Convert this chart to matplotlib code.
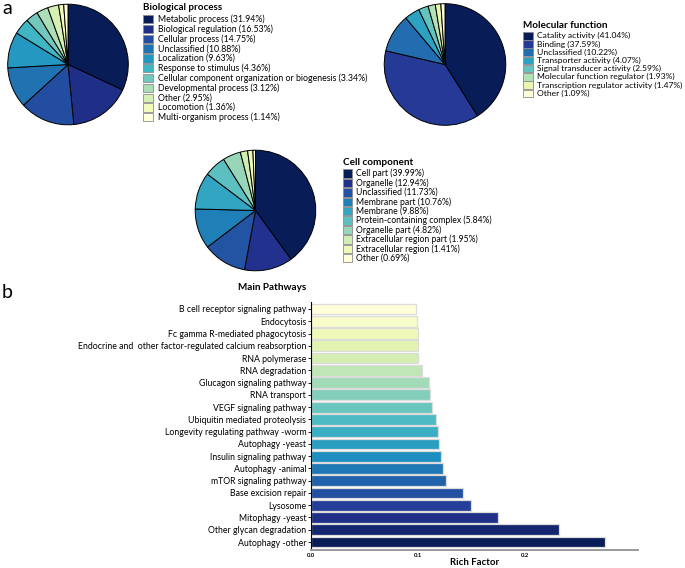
import matplotlib
matplotlib.use("Agg")
import matplotlib.pyplot as plt
import matplotlib.patches as mpatches
import numpy as np

plt.rcParams['font.family'] = ['Lato', 'DejaVu Sans']

# ---------------- data ----------------
bio_names = ["Metabolic process", "Biological regulation", "Cellular process", "Unclassified",
             "Localization", "Response to stimulus", "Cellular component organization or biogenesis",
             "Developmental process", "Other", "Locomotion", "Multi-organism process"]
bio_values = [31.94, 16.53, 14.75, 10.88, 9.63, 4.36, 3.34, 3.12, 2.95, 1.36, 1.14]

mol_names = ["Catality activity", "Binding", "Unclassified", "Transporter activity",
             "Signal transducer activity", "Molecular function regulator",
             "Transcription regulator activity", "Other"]
mol_values = [41.04, 37.59, 10.22, 4.07, 2.59, 1.93, 1.47, 1.09]

cell_names = ["Cell part", "Organelle", "Unclassified", "Membrane part", "Membrane",
              "Protein-containing complex", "Organelle part", "Extracellular region part",
              "Extracellular region", "Other"]
cell_values = [39.99, 12.94, 11.73, 10.76, 9.88, 5.84, 4.82, 1.95, 1.41, 0.69]

pathways = ["B cell receptor signaling pathway", "Endocytosis", "Fc gamma R-mediated phagocytosis",
            "Endocrine and  other factor-regulated calcium reabsorption", "RNA polymerase",
            "RNA degradation", "Glucagon signaling pathway", "RNA transport", "VEGF signaling pathway",
            "Ubiquitin mediated proteolysis", "Longevity regulating pathway -worm", "Autophagy -yeast",
            "Insulin signaling pathway", "Autophagy -animal", "mTOR signaling pathway",
            "Base excision repair", "Lysosome", "Mitophagy -yeast", "Other glycan degradation",
            "Autophagy -other"]
rich_factor = [0.0985, 0.0995, 0.0997, 0.0999, 0.1003, 0.1034, 0.1106, 0.1115, 0.1130, 0.1168,
               0.1183, 0.1200, 0.1218, 0.1230, 0.1265, 0.1424, 0.1498, 0.1750, 0.2320, 0.2750]
x_ticks = [0.0, 0.1, 0.2]
x_tick_labels = ["0.0", "0.1", "0.2"]

# ---------------- figure ----------------
W, H = 685, 568
fig = plt.figure(figsize=(W / 100, H / 100), dpi=100)
renderer = fig.canvas.get_renderer()
cmap = plt.get_cmap("YlGnBu")


def fit_size(text, target_px, weight="normal", base=7.0):
    """font size (pt) at which `text` is target_px wide"""
    t = fig.text(0, 0, text, fontsize=base, fontweight=weight)
    w = t.get_window_extent(renderer).width
    t.remove()
    return base * target_px / w


def px_axes(cx, cy, r):
    return fig.add_axes([(cx - r) / W, 1 - (cy + r) / H, 2 * r / W, 2 * r / H])


def draw_pie(cx, cy, r, values, names, title, leg_x, title_y, first_y, spacing,
             patch_w, patch_h, text_dx, fs, title_fs):
    ax = px_axes(cx, cy, r)
    n = len(values)
    colors = [cmap(v) for v in np.linspace(1, 0, n)]
    ax.pie(values, colors=colors, startangle=90, counterclock=False,
           wedgeprops=dict(edgecolor="black", linewidth=0.7))
    ax.set_xlim(-1.02, 1.02)
    ax.set_ylim(-1.02, 1.02)
    ax.set_aspect("equal")
    fig.text(leg_x / W, 1 - title_y / H, title, fontsize=title_fs, fontweight="bold",
             ha="left", va="center")
    for i, (c, nm, v) in enumerate(zip(colors, names, values)):
        y = first_y + i * spacing
        fig.patches.append(mpatches.Rectangle((leg_x / W, 1 - (y + patch_h / 2) / H),
                                              patch_w / W, patch_h / H, transform=fig.transFigure,
                                              facecolor=c, edgecolor="#8c8c8c", linewidth=0.6))
        fig.text((leg_x + text_dx) / W, 1 - y / H, f"{nm} ({v:.2f}%)", fontsize=fs,
                 ha="left", va="center")
    return ax


fs1 = fit_size("Cellular component organization or biogenesis (3.34%)", 209)
tfs1 = fit_size("Biological process", 80, "bold")
fs2 = fit_size("Transcription regulator activity (1.47%)", 145)
tfs2 = fit_size("Molecular function", 86, "bold")
fs3 = fit_size("Protein-containing complex (5.84%)", 135)
tfs3 = fit_size("Cell component", 71, "bold")

draw_pie(68, 64.5, 61.5, bio_values, bio_names, "Biological process",
         143, 7.5, 19.2, 9.81, 9.5, 8.3, 14.5, fs1, tfs1)
draw_pie(445, 64.5, 62, mol_values, mol_names, "Molecular function",
         523, 25, 35.8, 8.2, 9.5, 7.4, 14, fs2, tfs2)
draw_pie(255.5, 210.5, 61.5, cell_values, cell_names, "Cell component",
         343, 162.7, 173.6, 9.4, 8.6, 8.3, 13, fs3, tfs3)

# ---------------- bar chart ----------------
bar_fs = fit_size(pathways[3], 228)
left, right, top, bottom = 311, 638, 302, 550
axb = fig.add_axes([left / W, 1 - bottom / H, (right - left) / W, (bottom - top) / H])
n = len(pathways)
ypos = np.arange(n)[::-1]  # first pathway on top
bar_colors = [cmap(v) for v in np.linspace(0, 1, n)]
axb.barh(ypos, rich_factor, height=0.88, color=bar_colors, edgecolor="#dcdcdc", linewidth=0.9)
axb.set_yticks(ypos)
axb.set_yticklabels(pathways, fontsize=bar_fs)
axb.set_xticks(x_ticks)
axb.set_xticklabels(x_tick_labels, fontsize=4.3, fontweight="bold")
axb.set_xlim(0, 0.3056)
axb.set_ylim(-0.65, n - 0.43)
for s in ["top", "right"]:
    axb.spines[s].set_visible(False)
axb.spines["left"].set_color("black")
axb.spines["left"].set_linewidth(0.8)
axb.spines["bottom"].set_color("#999999")
axb.spines["bottom"].set_linewidth(1.4)
axb.tick_params(axis="y", length=2, width=0.6, pad=1.5)
axb.tick_params(axis="x", length=0, pad=2)
axb.set_xlabel("Rich Factor", fontsize=fit_size("Rich Factor", 49.5, "bold"),
               fontweight="bold", labelpad=0)

fig.text(272 / W, 1 - 287 / H, "Main Pathways", fontsize=fit_size("Main Pathways", 69, "bold"),
         fontweight="bold", ha="center", va="center")
fig.text(2 / W, 1 - 9 / H, "a", fontsize=14, ha="left", va="center")
fig.text(2 / W, 1 - 293 / H, "b", fontsize=14, ha="left", va="center")

fig.savefig("out.png", dpi=100)
